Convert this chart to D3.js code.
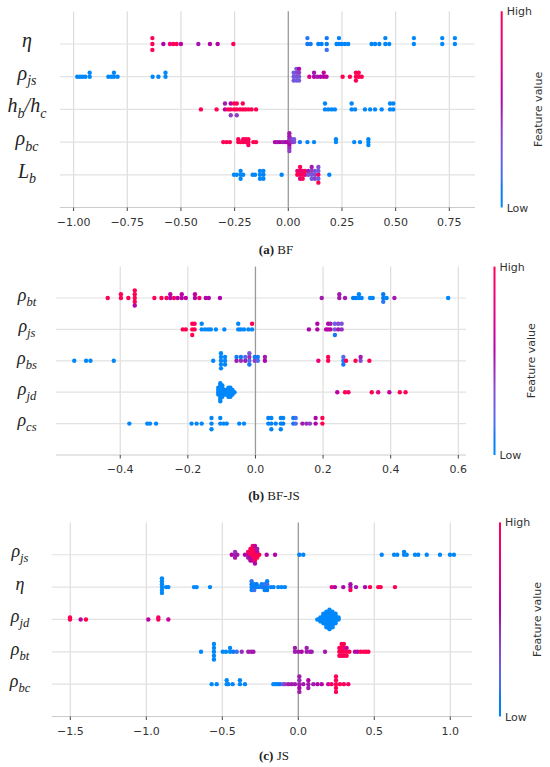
<!DOCTYPE html>
<html>
<head>
<meta charset="utf-8">
<script src="https://cdn.jsdelivr.net/npm/d3@7"></script>
<style>
  body { margin: 0; background: #fff; }
  svg { display: block; }
</style>
</head>
<body>
<div class="canvas"></div>
<script>
// feature names, top row first ("_" starts a subscript)
const bfLabels   = ["η", "ρ_js", "h_b/h_c", "ρ_bc", "L_b"];
const bfjsLabels = ["ρ_bt", "ρ_js", "ρ_bs", "ρ_jd", "ρ_cs"];
const jsLabels   = ["ρ_js", "η", "ρ_jd", "ρ_bt", "ρ_bc"];

// x tick values
const bfTicks   = [-1, -0.75, -0.5, -0.25, 0, 0.25, 0.5, 0.75];
const bfjsTicks = [-0.4, -0.2, 0, 0.2, 0.4, 0.6];
const jsTicks   = [-1.5, -1, -0.5, 0, 0.5, 1];

// SHAP values: [shap, [feature value of each sample at that shap]] (0 = low, 1 = high)
const bfPoints = [
  // eta
  [[-0.633,[1,1,1]],[-0.582,[0.55]],[-0.551,[0.8]],[-0.536,[1]],[-0.520,[0.95]],[-0.500,[0.6]],
   [-0.419,[0.5]],[-0.365,[0.55]],[-0.329,[0.55]],[-0.256,[0.95]],
   [0.089,[0.1,0.12]],[0.104,[0.1]],[0.140,[0.06]],[0.155,[0.06]],[0.179,[0.06,0.1,0.15]],
   [0.225,[0.03]],[0.236,[0.03,0.03]],[0.249,[0.03]],[0.264,[0.03]],[0.279,[0.03]],
   [0.388,[0.03]],[0.404,[0.03]],[0.424,[0.03]],[0.452,[0,0.03]],[0.470,[0]],
   [0.585,[0,0]],[0.717,[0,0]],[0.776,[0,0]]],
  // rho_js
  [[-0.983,[0]],[-0.970,[0]],[-0.958,[0]],[-0.945,[0]],[-0.925,[0,0]],
   [-0.838,[0]],[-0.824,[0]],[-0.812,[0,0]],[-0.795,[0]],
   [-0.632,[0]],[-0.605,[0]],[-0.572,[0,0]],
   [0.025,[0.3,0.25,0.3]],[0.038,[0.3,0.35,0.25,0.3]],[0.050,[0.3,0.4,0.3,0.55]],
   [0.098,[0.75]],[0.120,[0.55,0.5]],[0.135,[0.5]],[0.150,[0.55]],[0.165,[0.55,0.6]],[0.178,[0.6]],
   [0.253,[1]],[0.287,[1]],[0.315,[1,1,1]],[0.328,[1,1]],[0.342,[1]]],
  // h_b/h_c
  [[-0.407,[1]],[-0.334,[1]],[-0.295,[0.6,0.5]],[-0.280,[1]],[-0.268,[1,0.55,0.4]],
   [-0.252,[1,1]],[-0.240,[1,1,0.4]],[-0.225,[1]],[-0.212,[1,1]],[-0.200,[1]],
   [-0.186,[1]],[-0.171,[1]],[-0.150,[1]],
   [0.171,[0,0]],[0.186,[0]],[0.202,[0]],[0.217,[0]],[0.295,[0,0]],[0.311,[0]],
   [0.357,[0]],[0.381,[0]],[0.404,[0]],[0.435,[0]],[0.474,[0,0]],[0.489,[0,0]]],
  // rho_bc
  [[-0.303,[1]],[-0.287,[1]],[-0.272,[1]],[-0.233,[1,1]],[-0.222,[1]],[-0.210,[1,0.9]],
   [-0.198,[1,1]],[-0.186,[1,1,0.9]],[-0.163,[1]],[-0.150,[1]],
   [-0.062,[0.55]],[-0.051,[0.5]],[-0.039,[0.55]],[-0.026,[0.5]],[-0.015,[0.5]],[-0.005,[0.55]],
   [0.005,[0.5,0.45,0.55,0.5,0.45,0.5,0.4]],[0.016,[0.45,0.4]],[0.027,[0.35,0.3]],
   [0.054,[0.1]],[0.089,[0.03]],[0.120,[0]],[0.222,[0,0]],[0.307,[0]],[0.334,[0]],[0.373,[0,0,0]]],
  // L_b
  [[-0.253,[0]],[-0.240,[0]],[-0.222,[0,0,0]],[-0.210,[0]],[-0.166,[0]],[-0.155,[0]],
   [-0.132,[0,0,0]],[-0.116,[0.03,0,0]],[-0.031,[0.03]],
   [0.042,[1,0.8]],[0.055,[1,0.9,0.7,1]],[0.067,[1,0.8,1]],[0.078,[0.8,1]],
   [0.093,[0.3,0.5]],[0.109,[0.3,0.4,0.25,0.5]],[0.124,[0.35,0.3,0.4]],
   [0.140,[0.9,0.3,0.25,0.35,1]],[0.191,[0.03]]]
];

const bfjsPoints = [
  // rho_bt
  [[-0.437,[1]],[-0.398,[1,1]],[-0.376,[1]],[-0.357,[1,1,1,1,0.55]],[-0.299,[1]],[-0.278,[1]],
   [-0.263,[0.95]],[-0.252,[0.55,0.6]],[-0.241,[0.9]],[-0.230,[0.6]],[-0.218,[0.55,0.6]],
   [-0.206,[0.6]],[-0.179,[0.55,0.6]],[-0.166,[0.9]],[-0.147,[0.55]],[-0.138,[0.55]],[-0.105,[0.55]],
   [0.196,[0.5]],[0.248,[0.5,0.5]],[0.265,[0.5]],[0.289,[0.08]],[0.297,[0.08]],[0.306,[0.03,0.03]],
   [0.314,[0.03]],[0.339,[0]],[0.347,[0]],[0.378,[0.08,0.08,0.12]],[0.388,[0.03]],[0.411,[0.5]],[0.570,[0]]],
  // rho_js
  [[-0.215,[1]],[-0.206,[1]],[-0.187,[1,1,1]],[-0.180,[1,0.95]],[-0.159,[0,0]],[-0.149,[0]],
   [-0.140,[0]],[-0.132,[0]],[-0.117,[0]],[-0.092,[0]],[-0.051,[0,0]],[-0.043,[0]],[-0.034,[0]],
   [-0.021,[0]],[-0.010,[0,1]],
   [0.158,[0.55]],[0.183,[0.55,0.55]],[0.209,[0.55]],[0.215,[0.6,0.55]],[0.222,[0.55,0.5]],
   [0.235,[0.3,0.25,0.1]],[0.245,[0.5,0.35]],[0.255,[0.45,0.3]]],
  // rho_bs
  [[-0.536,[0]],[-0.501,[0]],[-0.488,[0]],[-0.419,[0]],[-0.125,[0]],[-0.102,[0,0,0,0,0]],
   [-0.090,[0,0,0]],[-0.056,[0.5,0.1]],[-0.043,[0.45,0.1]],[-0.030,[0.5,0.2]],
   [-0.018,[0.2,0.45,0.1,0.3]],[-0.002,[0.4,0.1]],[0.007,[0.2,0.1]],[0.028,[0.55,0.5]],
   [0.186,[0.85]],[0.215,[1,1]],[0.260,[0.1,0.2,0.1]],[0.268,[1]],[0.296,[1]],[0.311,[0.35,0.5]],[0.337,[1]]],
  // rho_jd
  [[-0.110,[0,0,0,0]],[-0.104,[0,0,0,0,0,0,0,0,0]],[-0.098,[0,0,0.03,0,0,0]],[-0.092,[0,0,0]],
   [-0.086,[0,0.03,0]],[-0.080,[0,0,0,0,0]],[-0.074,[0,0,0.03,0,0]],[-0.068,[0,0,0]],[-0.062,[0]],
   [0.242,[0.6]],[0.265,[1]],[0.275,[0.9]],[0.344,[1]],[0.363,[0.8]],[0.396,[0.6]],[0.427,[1]],[0.444,[1]]],
  // rho_cs
  [[-0.373,[0]],[-0.320,[0]],[-0.312,[0]],[-0.294,[0]],[-0.189,[0]],[-0.174,[0]],[-0.159,[0]],
   [-0.130,[0,0,0]],[-0.104,[0,0]],[-0.094,[0]],[-0.085,[0]],[-0.048,[0]],[-0.034,[0]],
   [0.038,[0.03,0.03]],[0.047,[0.03,0.03,0.03]],[0.060,[0.03]],[0.075,[0.03,0.03,0.03]],[0.082,[0.08,0.03]],
   [0.112,[0.08,0.08]],[0.119,[0.2,0.15]],[0.139,[0.5]],[0.151,[0.45]],[0.161,[0.4]],
   [0.178,[0.55,0.55]],[0.198,[1,1]]]
];

const jsPoints = [
  // rho_js
  [[-0.438,[0.55]],[-0.416,[0.5,0.45,0.5]],[-0.401,[0.5]],[-0.351,[0.55]],[-0.330,[0.6,0.9,0.5]],
   [-0.315,[1,0.9,0.6,1,0.55]],[-0.300,[1,1,0.8,1,0.6,1]],[-0.285,[1,1,1,0.9,1,0.6,0.55]],
   [-0.270,[1,0.6,1,0.5]],[-0.257,[1]],[-0.208,[0.55]],[-0.153,[0.55]],
   [0.007,[0.03]],[0.033,[0.03]],[0.549,[0]],[0.630,[0]],[0.651,[0]],[0.696,[0,0.03]],[0.713,[0]],
   [0.768,[0]],[0.789,[0]],[0.845,[0]],[0.932,[0]],[0.998,[0]],[1.024,[0]]],
  // eta
  [[-0.897,[0,0,0,0,0,0]],[-0.870,[0]],[-0.855,[0]],[-0.686,[0]],[-0.669,[0]],[-0.581,[0]],
   [-0.307,[0.03,0.08,0.03,0.12]],[-0.290,[0.08,0.03,0.15]],[-0.274,[0.03,0.08]],[-0.258,[0.03]],
   [-0.241,[0.12,0.03]],[-0.222,[0.08,0.15,0.03]],[-0.205,[0.03,0.15,0.08,0.03]],[-0.180,[0.03]],
   [-0.163,[0.03]],[-0.132,[0]],[-0.110,[0]],[-0.088,[0]],
   [0.220,[0.8]],[0.241,[0.55]],[0.296,[0.55]],[0.343,[0.5,0.55,0.95]],[0.380,[0.5]],
   [0.439,[0.55]],[0.472,[1]],[0.526,[1]],[0.542,[1]],[0.636,[1]]],
  // rho_jd
  [[-1.502,[1,1]],[-1.432,[0.6]],[-1.397,[1]],[-0.987,[0.6]],[-0.921,[1,0.9]],[-0.855,[0.65]],
   [0.125,[0]],[0.145,[0,0,0]],[0.165,[0,0,0,0,0,0]],[0.185,[0,0,0,0,0,0,0,0,0]],
   [0.205,[0,0,0,0,0,0,0,0,0,0,0]],[0.225,[0,0,0,0,0,0,0,0,0]],[0.245,[0,0,0,0,0,0]],[0.265,[0,0]]],
  // rho_bt
  [[-0.640,[0]],[-0.555,[0,0,0,0,0]],[-0.497,[0]],[-0.476,[0]],[-0.449,[0,0]],[-0.428,[0.08]],
   [-0.405,[0.15]],[-0.372,[0.45]],[-0.329,[0.5]],[-0.310,[0.5]],[-0.295,[0.5]],
   [-0.022,[0.5,0.5]],[0.000,[0.5]],[0.022,[0.55]],[0.055,[0.5,0.5]],[0.077,[0.5]],[0.088,[0.5]],[0.176,[0.5]],
   [0.270,[1,0.9,1]],[0.285,[1,1,0.9,1]],[0.300,[1,1,1,1]],[0.318,[1,0.6,1]],[0.336,[1]],
   [0.373,[0.6]],[0.390,[0.55]],[0.410,[1]],[0.430,[1]],[0.446,[1]],[0.461,[1]]],
  // rho_bc
  [[-0.570,[0]],[-0.537,[0]],[-0.471,[0,0]],[-0.460,[0]],[-0.432,[0]],[-0.384,[0,0]],[-0.351,[0]],
   [-0.164,[0]],[-0.150,[0]],[-0.135,[0.03]],[-0.120,[0.08]],[-0.100,[0.3]],[-0.088,[0.4]],
   [-0.066,[0.5]],[-0.044,[0.5]],[-0.022,[0.5]],[0.007,[0.5,0.45,0.55,0.5,0.5]],[0.033,[0.5]],
   [0.066,[0.5,0.55,0.5]],[0.099,[0.5]],[0.126,[0.55]],[0.154,[0.55]],[0.197,[0.7]],[0.219,[0.9]],
   [0.248,[1,1,1,1,1]],[0.274,[1]],[0.300,[1]],[0.329,[0.9]]]
];

// layout of the three stacked panels
const panels = [
  {labels: bfLabels, points: bfPoints, ticks: bfTicks, fmt: ".2f", tag: "(a)", name: " BF",
   top: 11.3, step: 32.7, left: 60, right: 475, xmin: -1.0633, xmax: 0.8696,
   labelX: 27, labelSize: 20, cbX: 501.7, fvX: 538, capX: 276, capY: 254},
  {labels: bfjsLabels, points: bfjsPoints, ticks: bfjsTicks, fmt: ".1f", tag: "(b)", name: " BF-JS",
   top: 266.6, step: 31.4, left: 56, right: 466, xmin: -0.590, xmax: 0.6228,
   labelX: 27, labelSize: 18, cbX: 494.5, fvX: 531, capX: 274, capY: 500},
  {labels: jsLabels, points: jsPoints, ticks: jsTicks, fmt: ".1f", tag: "(c)", name: " JS",
   top: 522.4, step: 32.35, left: 51.7, right: 472, xmin: -1.6224, xmax: 1.1428,
   labelX: 20, labelSize: 18, cbX: 500, fvX: 537, capX: 274, capY: 760}
];

// shap red_blue colormap: LCh path blue -> purple (darker) -> red
const colour = t => {
  const h = 266.93 + t * (380.32 - 266.93);
  const c = 70 + 20 * t;
  const l = t < 0.5 ? 54 - 28 * t : 40 + 28 * (t - 0.5);
  return d3.hcl(h, c, l).formatHex();
};

const svg = d3.select('.canvas')
  .append('svg')
  .attr('width', 550)
  .attr('height', 767);

// colour bar gradient (red on top)
const grad = svg.append('defs').append('linearGradient')
  .attr('id', 'cbar')
  .attr('x1', 0).attr('y1', 1).attr('x2', 0).attr('y2', 0);
grad.selectAll('stop')
  .data(d3.range(0, 1.0001, 0.05))
  .enter().append('stop')
    .attr('offset', d => d)
    .attr('stop-color', d => colour(d));

// shap-style beeswarm offsets (in row units)
const swarm = (vals) => {
  const nbins = 100;
  const mn = d3.min(vals), mx = d3.max(vals);
  const quant = vals.map(v => Math.round(nbins * (v - mn) / (mx - mn + 1e-8)));
  const order = d3.range(vals.length).sort((a, b) => quant[a] - quant[b] || a - b);
  const ys = new Array(vals.length).fill(0);
  let layer = 0, last = -1;
  order.forEach(i => {
    if (quant[i] !== last) layer = 0;
    ys[i] = Math.ceil(layer / 2) * ((layer % 2) * 2 - 1);
    layer++;
    last = quant[i];
  });
  const m = d3.max(ys) + 1;
  return ys.map(y => y * 0.9 * 0.4 / m);
};

// math-style label with subscripts
const mathLabel = (sel, str, fs) => {
  const parts = str.match(/_[a-z]+|[^_]/g);
  let down = false;
  parts.forEach(p => {
    if (p[0] === '_') {
      sel.append('tspan').attr('font-size', fs * 0.7).attr('dy', fs * 0.28).text(p.slice(1));
      down = true;
    } else {
      const t = sel.append('tspan').text(p);
      if (down) { t.attr('dy', -fs * 0.28); down = false; }
    }
  });
};

panels.forEach(p => {
  const bottom = p.top + 6 * p.step;
  const x = d3.scaleLinear().domain([p.xmin, p.xmax]).range([p.left, p.right]);
  const rowY = i => p.top + (i + 1) * p.step;
  const g = svg.append('g');

  // vertical grid
  g.selectAll('.grid')
    .data(p.ticks.filter(t => t !== 0))
    .enter().append('line')
      .attr('x1', d => x(d)).attr('x2', d => x(d))
      .attr('y1', p.top).attr('y2', bottom)
      .attr('stroke', '#dddddd').attr('stroke-width', 1.2);

  // row lines
  g.selectAll('.row')
    .data(p.labels)
    .enter().append('line')
      .attr('x1', p.left).attr('x2', p.right)
      .attr('y1', (d, i) => rowY(i)).attr('y2', (d, i) => rowY(i))
      .attr('stroke', '#e2e2e2').attr('stroke-width', 1.2);

  // zero line
  g.append('line')
    .attr('x1', x(0)).attr('x2', x(0))
    .attr('y1', p.top).attr('y2', bottom)
    .attr('stroke', '#999999').attr('stroke-width', 1.3);

  // bottom axis
  g.append('line')
    .attr('x1', p.left).attr('x2', p.right)
    .attr('y1', bottom).attr('y2', bottom)
    .attr('stroke', '#cccccc').attr('stroke-width', 1.2);

  const fmt = d3.format(p.fmt);
  const ticks = g.selectAll('.tick')
    .data(p.ticks)
    .enter().append('g')
      .attr('transform', d => `translate(${x(d)},${bottom})`);
  ticks.append('line')
    .attr('y1', 0).attr('y2', 3.5)
    .attr('stroke', '#444').attr('stroke-width', 1);
  ticks.append('text')
    .attr('y', 18.3)
    .attr('text-anchor', 'middle')
    .attr('font-family', 'DejaVu Sans')
    .attr('font-size', 11)
    .attr('fill', '#333')
    .text(d => fmt(d).replace('-', '−'));

  // feature labels
  p.labels.forEach((lab, i) => {
    const t = g.append('text')
      .attr('x', p.labelX)
      .attr('y', rowY(i) + p.labelSize * 0.15)
      .attr('text-anchor', 'middle')
      .attr('font-family', 'Liberation Serif')
      .attr('font-style', 'italic')
      .attr('font-size', p.labelSize)
      .attr('fill', '#222');
    mathLabel(t, lab, p.labelSize);
  });

  // dots
  p.points.forEach((row, i) => {
    const flat = [];
    row.forEach(([v, fvs]) => fvs.forEach(f => flat.push({v, f})));
    const ys = swarm(flat.map(d => d.v));
    flat.forEach((d, k) => d.y = rowY(i) - ys[k] * p.step);
    g.selectAll(null)
      .data(flat)
      .enter().append('circle')
        .attr('cx', d => x(d.v))
        .attr('cy', d => d.y)
        .attr('r', 2.2)
        .attr('fill', d => colour(d.f));
  });

  // colour bar
  g.append('rect')
    .attr('x', p.cbX - 1).attr('y', p.top)
    .attr('width', 2).attr('height', bottom - p.top)
    .attr('fill', 'url(#cbar)');
  g.append('text')
    .attr('x', p.cbX + 5).attr('y', p.top + 4)
    .attr('font-family', 'DejaVu Sans').attr('font-size', 11).attr('fill', '#333')
    .text('High');
  g.append('text')
    .attr('x', p.cbX + 5).attr('y', bottom + 4)
    .attr('font-family', 'DejaVu Sans').attr('font-size', 11).attr('fill', '#333')
    .text('Low');
  g.append('text')
    .attr('transform', `translate(${p.fvX},${(p.top + bottom) / 2}) rotate(-90)`)
    .attr('dy', '0.35em')
    .attr('text-anchor', 'middle')
    .attr('font-family', 'DejaVu Sans').attr('font-size', 11).attr('fill', '#333')
    .text('Feature value');

  // caption
  const cap = g.append('text')
    .attr('x', p.capX).attr('y', p.capY)
    .attr('text-anchor', 'middle')
    .attr('font-family', 'Liberation Serif')
    .attr('font-size', 13)
    .attr('fill', '#222');
  cap.append('tspan').attr('font-weight', 'bold').text(p.tag);
  cap.append('tspan').text(p.name);
});
</script>
</body>
</html>
